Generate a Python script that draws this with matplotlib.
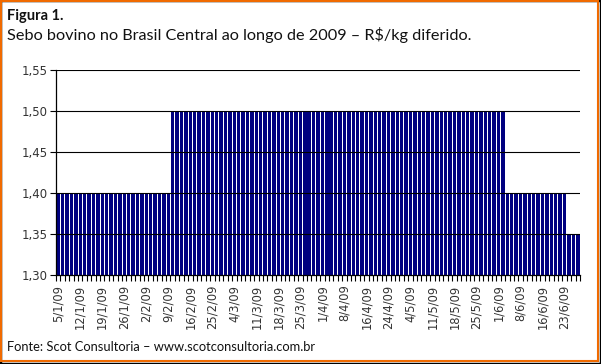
import numpy as np
import matplotlib
matplotlib.use("Agg")
import matplotlib.pyplot as plt
from matplotlib.patches import Rectangle

# sebo bovino, R$/kg, one bar per business day 5/1/09 .. 26/6/09
precos = [1.40] * 26 + [1.50] * 76 + [1.40] * 14 + [1.35] * 3

# every 5th business day carries a label
rotulos = ["5/1/09", "12/1/09", "19/1/09", "26/1/09", "2/2/09", "9/2/09",
           "16/2/09", "25/2/09", "4/3/09", "11/3/09", "18/3/09", "25/3/09",
           "1/4/09", "8/4/09", "16/4/09", "24/4/09", "4/5/09", "11/5/09",
           "18/5/09", "25/5/09", "1/6/09", "8/6/09", "16/6/09", "23/6/09"]

titulo = "Figura 1."
subtitulo = "Sebo bovino no Brasil Central ao longo de 2009 \u2013 R$/kg diferido."
fonte = "Fonte: Scot Consultoria \u2013 www.scotconsultoria.com.br"

fig = plt.figure(figsize=(6.01, 3.64), dpi=100)
ax = fig.add_axes([56 / 601, 1 - 275 / 364, 524 / 601, 205 / 364])

x = np.arange(len(precos))
ax.bar(x, precos, width=0.78, color="#000080", bottom=0, zorder=2)

ax.set_ylim(1.30, 1.55)
ax.set_xlim(-0.5, len(precos) - 0.5)
ax.set_yticks(np.arange(1.30, 1.551, 0.05))
ax.set_yticklabels([f"{v:.2f}".replace(".", ",") for v in np.arange(1.30, 1.551, 0.05)],
                   fontsize=8.5, family="DejaVu Sans", color="#333333")
for v in np.arange(1.35, 1.551, 0.05):
    ax.axhline(v, color="black", lw=0.8, zorder=3)

# ticks at bar borders, labels every 5 bars
ax.set_xticks(np.arange(-0.5, len(precos), 1), minor=True)
ax.set_xticks(np.arange(0, len(precos), 5))
ax.set_xticklabels(rotulos, rotation=90, fontsize=8.3, family="DejaVu Sans", color="#333333")
ax.tick_params(axis="x", which="major", length=0, pad=7)
ax.tick_params(axis="x", which="minor", length=4, width=0.8, direction="out", color="black")
ax.tick_params(axis="y", length=4, width=0.8, direction="out", pad=2)

for s in ["top", "right"]:
    ax.spines[s].set_visible(False)
ax.spines["left"].set_linewidth(0.9)
ax.spines["bottom"].set_linewidth(0.9)
ax.spines["bottom"].set_zorder(4)

fig.text(7 / 601, 1 - 16 / 364, titulo, fontsize=10.5, fontweight="bold",
         family="Lato", va="center", ha="left", color="#111111")
fig.text(7 / 601, 1 - 35 / 364, subtitulo, fontsize=11.7,
         family="Lato", va="center", ha="left", color="#111111")
fig.text(7 / 601, 1 - 347 / 364, fonte, fontsize=9.3,
         family="Lato", va="center", ha="left", color="#111111")

# orange frame with a dark shadow on right/bottom
fig.patches.append(Rectangle((0, 0), 1, 1, transform=fig.transFigure,
                             fill=False, edgecolor="black", lw=2.5, zorder=0))
fig.patches.append(Rectangle((0.5 / 601, 3 / 364), 597.5 / 601, 360.5 / 364,
                             transform=fig.transFigure, fill=False,
                             edgecolor="#f06a00", lw=1.5, zorder=1))

fig.savefig("out.png", dpi=100)
